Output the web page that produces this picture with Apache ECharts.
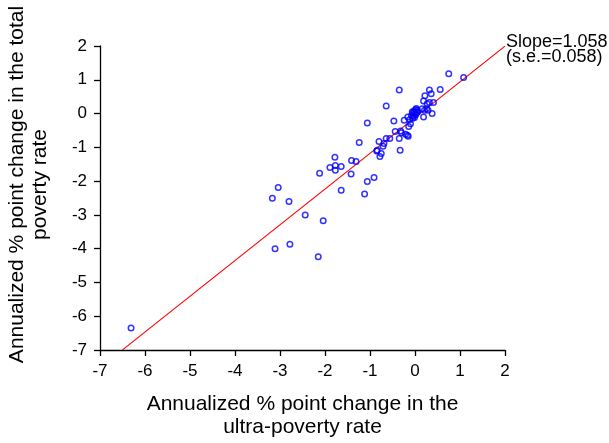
<!DOCTYPE html>
<html>
<head>
<meta charset="utf-8">
<script src="https://cdn.jsdelivr.net/npm/echarts@6/dist/echarts.min.js"></script>
<style>
  html, body { margin: 0; padding: 0; background: #fff; }
  #chart { width: 609px; height: 443px; }
</style>
</head>
<body>
<div id="chart"></div>
<script>
// ultra-poverty change (x) vs total poverty change (y)
var points = [
  [-6.31, -6.35], [-3.11, -4.0], [-2.78, -3.87], [-2.15, -4.24], [-2.04, -3.17],
  [-2.44, -3.0], [-2.8, -2.6], [-3.17, -2.51], [-3.04, -2.19], [-2.12, -1.77],
  [-1.64, -2.27], [-1.12, -2.38], [-1.06, -2.01], [-0.91, -1.89], [-1.42, -1.79],
  [-1.78, -1.29], [-1.89, -1.6], [-1.77, -1.54], [-1.77, -1.68], [-1.64, -1.57],
  [-1.41, -1.39], [-1.31, -1.42], [-1.06, -0.28], [-1.24, -0.86],
  [-0.44, -0.53], [-0.32, -0.52], [-0.21, -0.61], [-0.15, -0.67], [-0.35, -0.74],
  [-0.56, -0.74], [-0.64, -0.74], [-0.8, -0.83], [-0.69, -0.89], [-0.71, -0.97],
  [-0.84, -1.09], [-0.75, -1.18], [-0.78, -1.27], [-0.33, -1.09], [-0.85, -1.11],
  [-0.47, -0.22], [-0.24, -0.2], [-0.16, -0.1], [-0.08, -0.06], [-0.05, 0.02],
  [-0.02, 0.07], [0.01, 0.12], [0.03, 0.15], [-0.03, -0.08], [0.02, -0.03],
  [-0.05, -0.14], [0.05, 0.1], [0.0, 0.0], [-0.1, -0.3], [-0.14, -0.38],
  [-0.12, -0.18], [-0.06, 0.05], [0.06, 0.05], [-0.01, -0.12], [0.04, 0.04],
  [-0.3, -0.57], [-0.17, -0.64],
  [0.75, 1.18], [1.08, 1.07], [-0.35, 0.7], [0.32, 0.7], [0.56, 0.71],
  [0.36, 0.59], [0.22, 0.53], [0.19, 0.37], [0.32, 0.33], [0.41, 0.33],
  [-0.64, 0.22], [0.16, 0.14], [0.26, 0.14], [0.38, 0.0], [0.19, -0.1],
  [0.27, 0.29], [0.21, 0.1], [0.29, 0.1]
];

// fitted line
var slope = 1.058;
var slopeSe = 0.058;
var intercept = -0.12;
var fitRange = [-6.5, 2];

var axisTicks = [-7, -6, -5, -4, -3, -2, -1, 0, 1, 2];

var fitLine = fitRange.map(function (x) {
  return [x, slope * x + intercept];
});

var font = 'Liberation Sans, Arial, sans-serif';

var myChart = echarts.init(document.getElementById('chart'));

var axisCommon = {
  type: 'value',
  min: axisTicks[0],
  max: axisTicks[axisTicks.length - 1],
  interval: 1,
  splitLine: { show: false },
  axisLine: { onZero: false, lineStyle: { color: '#000', width: 1.3 } },
  axisTick: { show: true, inside: false, length: 6, lineStyle: { color: '#000', width: 1.3 } },
  axisLabel: { color: '#000', fontSize: 17, fontFamily: font, margin: 13 },
  nameLocation: 'middle',
  nameTextStyle: { color: '#000', fontSize: 21, fontFamily: font, lineHeight: 23 }
};

option = {
  animation: false,
  backgroundColor: '#fff',
  grid: { left: 100, right: 104, top: 46, bottom: 93, outerBoundsMode: 'none' },
  xAxis: Object.assign({}, axisCommon, {
    name: 'Annualized % point change in the\nultra-poverty rate',
    nameGap: 43
  }),
  yAxis: Object.assign({}, axisCommon, {
    name: 'Annualized % point change in the total\npoverty rate',
    nameGap: 48,
    nameTextStyle: Object.assign({}, axisCommon.nameTextStyle, { padding: [0, 0, 0, 27] })
  }),
  series: [
    {
      type: 'line',
      data: fitLine,
      symbol: 'none',
      lineStyle: { color: '#ff0000', width: 1.2 },
      silent: true,
      z: 1,
      endLabel: {
        show: true,
        formatter: 'Slope=' + slope.toFixed(3) + '\n(s.e.=' + slopeSe.toFixed(3) + ')',
        color: '#000',
        fontSize: 18,
        lineHeight: 15,
        fontFamily: font,
        distance: 1,
        offset: [0, 3]
      }
    },
    {
      type: 'scatter',
      data: points,
      symbol: 'circle',
      symbolSize: 5.5,
      itemStyle: { color: 'rgba(0,0,0,0)', borderColor: '#0000ff', borderWidth: 1.5 },
      z: 2
    }
  ]
};

myChart.setOption(option);
</script>
</body>
</html>
